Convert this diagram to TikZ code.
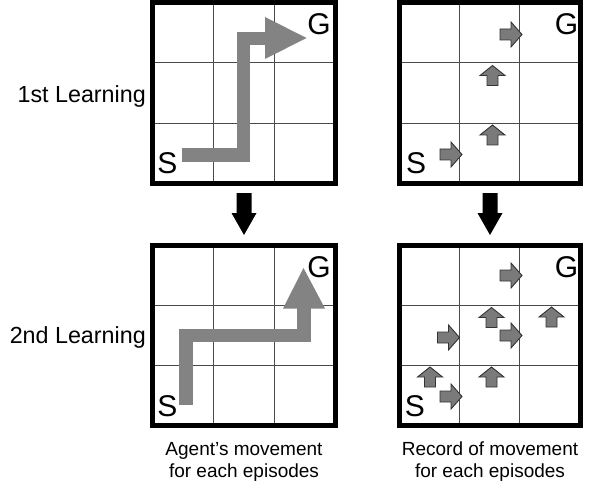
\documentclass[tikz,border=0pt]{standalone}
\usepackage{fontspec}
\setmainfont{Liberation Sans}
\usetikzlibrary{calc}
\definecolor{routegray}{HTML}{838383}
\definecolor{markgray}{HTML}{7A7A7A}
\definecolor{gridgray}{HTML}{4A4A4A}
\begin{document}
\begin{tikzpicture}[x=1pt,y=-1pt,
  board/.style={draw=black, line width=5pt, inner sep=0pt, outer sep=0pt},
  cellline/.style={draw=gridgray, line width=1.3pt, shorten <=2.5pt, shorten >=2.5pt},
  route/.style={draw=routegray, line width=13.5pt, line join=miter},
  routehead/.style={fill=routegray},
  stepmark/.style={fill=markgray, draw=black!80, line width=0.9pt, line join=miter},
  bigmark/.style={fill=black},
  rowlabel/.style={font=\fontsize{23.3}{27}\selectfont, anchor=base east, inner sep=0pt},
  caption/.style={font=\fontsize{19}{22}\selectfont, anchor=base, inner sep=0pt},
  cornerlabel/.style={font=\fontsize{30}{34}\selectfont, anchor=base, inner sep=0pt},
  rmark/.pic={\draw[stepmark] (-11,-5.5) -- (0,-5.5) -- (0,-12.5) -- (11,0) -- (0,12.5) -- (0,5.5) -- (-11,5.5) -- cycle;},
  umark/.pic={\draw[stepmark] (-5.5,10) -- (-5.5,0) -- (-12.5,0) -- (0,-10) -- (12.5,0) -- (5.5,0) -- (5.5,10) -- cycle;}
]
\useasboundingbox (0,0) rectangle (597,484);

% the four 3x3 boards
\node[board, minimum width=183.5pt, minimum height=181pt] (tl) at (243.75,93) {};
\node[board, minimum width=181pt, minimum height=181pt] (tr) at (489.5,93) {};
\node[board, minimum width=183.5pt, minimum height=180.5pt] (bl) at (243.75,335.25) {};
\node[board, minimum width=181pt, minimum height=180.5pt] (br) at (489.5,335.25) {};

\foreach \b in {tl,tr,bl,br} {
  \foreach \t in {1/3,2/3} {
    \draw[cellline] ($(\b.north west)!\t!(\b.north east)$) -- ($(\b.south west)!\t!(\b.south east)$);
    \draw[cellline] ($(\b.north west)!\t!(\b.south west)$) -- ($(\b.north east)!\t!(\b.south east)$);
  }
}

% agent routes
\draw[route] (181.7,155) -| (243.5,38.5) -- (266,38.5);
\fill[routehead] (265,17) -- (306.5,38) -- (265,59) -- cycle;
\draw[route] (186,405) |- (304,335.5) -- (304,307);
\fill[routehead] (283,308.5) -- (303.5,268) -- (325,308.5) -- cycle;

% recorded moves, first learning
\path (511,34.5) pic {rmark};
\path (492.5,75.5) pic {umark};
\path (492.5,135) pic {umark};
\path (451,154.5) pic {rmark};

% recorded moves, second learning
\path (511,275.5) pic {rmark};
\path (491.5,317.5) pic {umark};
\path (511,335.5) pic {rmark};
\path (551.5,317) pic {umark};
\path (448.5,337.5) pic {rmark};
\path (430,377) pic {umark};
\path (491.5,377) pic {umark};
\path (451,396.5) pic {rmark};

% start and goal letters
\node[cornerlabel] (tlS) at (167.5,173) {S};
\node[cornerlabel] (tlG) at (319,35) {G};
\node[cornerlabel] (trS) at (416,174) {S};
\node[cornerlabel] (trG) at (566.5,35) {G};
\node[cornerlabel] (blS) at (167.5,416) {S};
\node[cornerlabel] (blG) at (319,277) {G};
\node[cornerlabel] (brS) at (415,416) {S};
\node[cornerlabel] (brG) at (566.5,277) {G};

% transitions between the learning runs
\fill[bigmark] (236.5,193) -- (251.5,193) -- (251.5,213) -- (256.5,213) -- (244,235) -- (231.5,213) -- (236.5,213) -- cycle;
\fill[bigmark] (482.5,193) -- (497.5,193) -- (497.5,213) -- (502.5,213) -- (490,235) -- (477.5,213) -- (482.5,213) -- cycle;

% row labels
\node[rowlabel] (first) at (146,103) {1st Learning};
\node[rowlabel] (second) at (146,343) {2nd Learning};

% column captions
\node[caption] (capA1) at (244,455) {Agent’s movement};
\node[caption] (capA2) at (244,477) {for each episodes};
\node[caption] (capB1) at (490,455) {Record of movement};
\node[caption] (capB2) at (490,477) {for each episodes};
\end{tikzpicture}
\end{document}
